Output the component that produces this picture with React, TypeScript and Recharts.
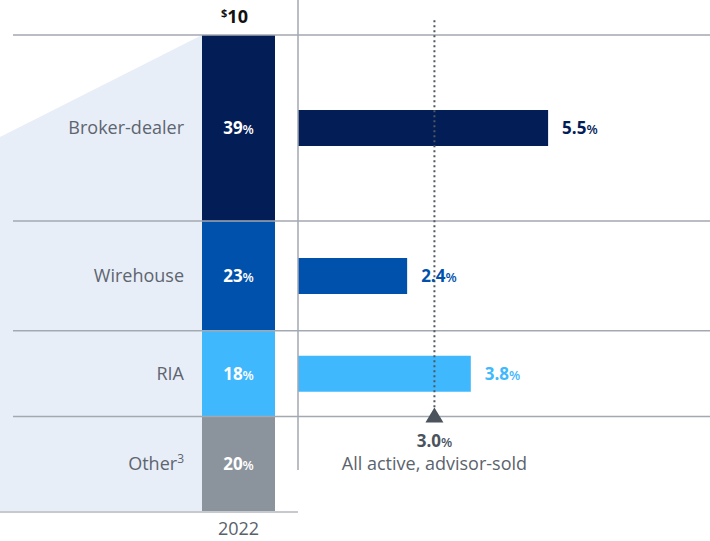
import { ComposedChart, Bar, XAxis, YAxis, ReferenceLine, ReferenceArea, ReferenceDot, LabelList, Cell } from 'recharts';

const channels = ['Broker-dealer', 'Wirehouse', 'RIA', 'Other'];
const footnotes = ['', '', '', '3'];
const shares = [39, 23, 18, 20];
const growth: (number | null)[] = [5.5, 2.4, 3.8, null];
const colors = ['#031d57', '#0051ac', '#3fb8fd', '#8b939d'];
const year = '2022';
const total = '10';
const benchmark = 3.0;
const benchmarkLabel = 'All active, advisor-sold';

const font = "'Open Sans', 'Noto Sans', sans-serif";
const gridColor = '#a3a9b1';
const marginLeft = 13;
const padLeft = 189;

// cumulative edges of the stacked column, top to bottom
const edges = shares.reduce((acc, s) => [...acc, acc[acc.length - 1] + s], [0]);

const stackData = [
  channels.reduce((row, c, i) => ({ ...row, [c]: shares[i] }), { year } as Record<string, any>),
];

const rateData = channels
  .map((c, i) => ({ channel: c, mid: edges[i] + shares[i] / 2, growth: growth[i], color: colors[i] }))
  .filter((d) => d.growth !== null);

// light fan that runs from the chart's left edge into the 2022 column
const Fan = (p: any) => {
  const { x, y, height } = p;
  const top = Math.min(y, y + height);
  const h = Math.abs(height);
  const left = x - padLeft - marginLeft;
  return (
    <polygon
      points={`${left},${top + h * 0.214} ${x},${top} ${x},${top + h} ${left},${top + h}`}
      fill="#e8eef7"
    />
  );
};

const BottomLine = (p: any) => (
  <line x1={0} x2={Math.max(p.x1, p.x2)} y1={p.y1} y2={p.y2} stroke="#c6c9ce" strokeWidth={2} />
);

const segmentLabel = (i: number) => (p: any) => {
  const { x, y, width, height, value } = p;
  const top = Math.min(y, y + height);
  const cy = y + height / 2;
  return (
    <g fontFamily={font}>
      <text x={x - 18} y={cy + 6} textAnchor="end" fill="#5d6570" fontSize={18}>
        {channels[i]}
        {footnotes[i] && (
          <tspan fontSize={12} dy={-7}>
            {footnotes[i]}
          </tspan>
        )}
      </text>
      <text x={x + width / 2} y={cy + 6} textAnchor="middle" fill="#ffffff">
        <tspan fontSize={17} fontWeight={700}>{value}</tspan>
        <tspan fontSize={13} fontWeight={600}>%</tspan>
      </text>
      {i === 0 && (
        <text x={x + width / 2 - 4} y={top - 12} textAnchor="middle" fill="#111111" fontWeight={700}>
          <tspan fontSize={11} dy={-6}>$</tspan>
          <tspan fontSize={18} dy={6}>{total}</tspan>
        </text>
      )}
    </g>
  );
};

const RateLabel = (p: any) => {
  const { x, y, width, height, value, index } = p;
  return (
    <text x={x + width + 14} y={y + height / 2 + 6} fill={rateData[index].color} fontFamily={font}>
      <tspan fontSize={17} fontWeight={700}>{Number(value).toFixed(1)}</tspan>
      <tspan fontSize={13} fontWeight={600}>%</tspan>
    </text>
  );
};

const BenchmarkMarker = (p: any) => {
  const { cx, cy } = p;
  return (
    <g fontFamily={font}>
      <polygon points={`${cx},${cy - 9} ${cx + 9},${cy + 6} ${cx - 9},${cy + 6}`} fill="#4b535d" />
      <text x={cx} y={cy + 30} textAnchor="middle" fill="#4b535d">
        <tspan fontSize={17} fontWeight={700}>{benchmark.toFixed(1)}</tspan>
        <tspan fontSize={13} fontWeight={600}>%</tspan>
      </text>
      <text x={cx} y={cy + 53} textAnchor="middle" fill="#5b636d" fontSize={18}>
        {benchmarkLabel}
      </text>
    </g>
  );
};

export default function App() {
  return (
    <div style={{ position: 'absolute', left: 0, top: 0, width: 710, height: 541, background: '#fff' }}>
      <div style={{ position: 'absolute', left: 0, top: 0 }}>
        <ComposedChart
          width={298}
          height={541}
          data={stackData}
          margin={{ top: 35, right: 0, bottom: 0, left: marginLeft }}
          barCategoryGap={0}
        >
          <XAxis
            dataKey="year"
            type="category"
            padding={{ left: padLeft, right: 23 }}
            height={29}
            tickLine={false}
            axisLine={false}
            tickMargin={4}
            interval={0}
            tick={{ fill: '#59616b', fontSize: 18, fontFamily: font }}
          />
          <YAxis hide type="number" domain={[0, 100]} reversed />
          <ReferenceArea y1={0} y2={100} shape={Fan} ifOverflow="visible" />
          {edges.slice(0, 4).map((e) => (
            <ReferenceLine key={e} y={e} stroke={gridColor} strokeWidth={1.5} />
          ))}
          <ReferenceLine y={100} shape={BottomLine} />
          {channels.map((c, i) => (
            <Bar key={c} dataKey={c} stackId="share" fill={colors[i]} isAnimationActive={false}>
              <LabelList dataKey={c} content={segmentLabel(i)} />
            </Bar>
          ))}
        </ComposedChart>
      </div>
      <div style={{ position: 'absolute', left: 0, top: 0 }}>
        <ComposedChart
          layout="vertical"
          width={710}
          height={541}
          data={rateData}
          margin={{ top: 35, right: 0, bottom: 29, left: 298 }}
        >
          <XAxis hide type="number" domain={[0, 9.06]} />
          <YAxis hide type="number" dataKey="mid" domain={[0, 100]} />
          {edges.slice(0, 4).map((e) => (
            <ReferenceLine key={e} y={e} stroke={gridColor} strokeWidth={1.5} />
          ))}
          <ReferenceLine
            segment={[{ x: 0, y: -8 }, { x: 0, y: 91.2 }]}
            ifOverflow="visible"
            stroke={gridColor}
            strokeWidth={1.5}
          />
          <ReferenceLine
            segment={[{ x: benchmark, y: -3.1 }, { x: benchmark, y: edges[3] }]}
            ifOverflow="visible"
            stroke="#50575f"
            strokeWidth={2}
            strokeDasharray="2 3"
          />
          <Bar dataKey="growth" barSize={36} isAnimationActive={false}>
            {rateData.map((d) => (
              <Cell key={d.channel} fill={d.color} />
            ))}
            <LabelList dataKey="growth" content={RateLabel} />
          </Bar>
          <ReferenceDot x={benchmark} y={edges[3]} ifOverflow="visible" shape={BenchmarkMarker} />
        </ComposedChart>
      </div>
    </div>
  );
}
